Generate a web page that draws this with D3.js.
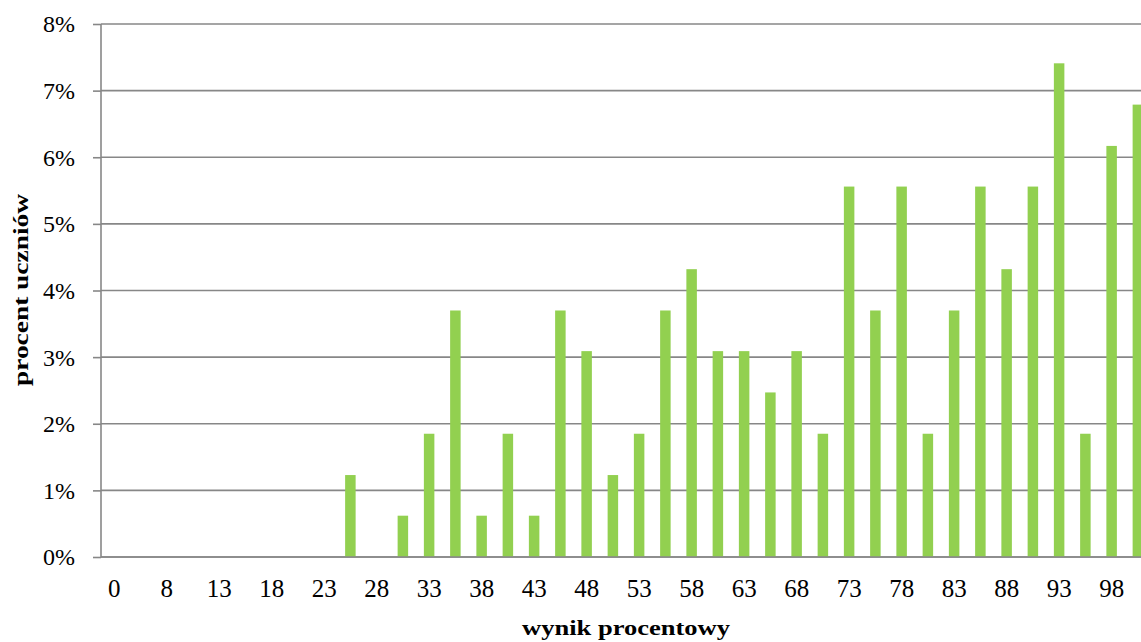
<!DOCTYPE html>
<html>
<head>
<meta charset="utf-8">
<script src="https://cdn.jsdelivr.net/npm/d3@7"></script>
<style>
  html, body { margin: 0; padding: 0; background: #fff; overflow: hidden; }
  svg { display: block; }
</style>
</head>
<body>
<svg id="chart" width="1141" height="642"></svg>
<script>
// Categories: percentage score (every other label shown)
const categories = ["0","3","8","10","13","15","18","20","23","25","28","30","33","35","38","40","43","45","48","50","53","55","58","60","63","65","68","70","73","75","78","80","83","85","88","90","93","95","98","100"];
// Share of students (%)
const values = [0,0,0,0,0,0,0,0,0,1.23,0,0.62,1.85,3.70,0.62,1.85,0.62,3.70,3.09,1.23,1.85,3.70,4.32,3.09,3.09,2.47,3.09,1.85,5.56,3.70,5.56,1.85,3.70,5.56,4.32,5.56,7.41,1.85,6.17,6.79];
const yTicks = [0,1,2,3,4,5,6,7,8];
const xTitle = "wynik procentowy";
const yTitle = "procent uczniów";

const svg = d3.select("#chart");
const pLeft = 101, pRight = 1151, pTop = 24, pBottom = 557;
const font = "'Liberation Serif','Times New Roman',serif";

const x = d3.scaleBand().domain(categories).range([pLeft, pRight]).padding(0);
const y = d3.scaleLinear().domain([0, 8]).range([pBottom, pTop]);

// gridlines + y ticks
const yAxis = d3.axisLeft(y).tickValues(yTicks).tickFormat(d => d + "%").tickSize(8).tickPadding(18);
const gy = svg.append("g").attr("transform", `translate(${pLeft},0)`).call(yAxis);
gy.select(".domain").remove();
gy.selectAll(".tick line").attr("stroke", "#878787").attr("stroke-width", 1.6);
gy.selectAll(".tick text").attr("font-family", font).attr("font-size", 24).attr("fill", "#000").attr("dy", "0.33em");

svg.append("g").selectAll("line").data(yTicks).join("line")
  .attr("x1", pLeft).attr("x2", 1141)
  .attr("y1", d => y(d)).attr("y2", d => y(d))
  .attr("stroke", "#878787").attr("stroke-width", 1.6);

// bars
const bw = 10.5;
svg.append("g").selectAll("rect").data(values.map((v, i) => ({c: categories[i], v})))
  .join("rect")
  .attr("x", d => x(d.c) + x.bandwidth() / 2 - bw / 2)
  .attr("width", bw)
  .attr("y", d => y(d.v))
  .attr("height", d => y(0) - y(d.v))
  .attr("fill", "#92D050");

// y axis line
svg.append("line").attr("x1", pLeft).attr("x2", pLeft).attr("y1", pTop).attr("y2", pBottom)
  .attr("stroke", "#878787").attr("stroke-width", 1.6);
// x axis line
svg.append("line").attr("x1", pLeft).attr("x2", 1141).attr("y1", pBottom).attr("y2", pBottom)
  .attr("stroke", "#878787").attr("stroke-width", 1.6);

// x tick labels (every other category)
const xAxis = d3.axisBottom(x).tickValues(categories.filter((d, i) => i % 2 === 0)).tickSize(0).tickPadding(22);
const gx = svg.append("g").attr("transform", `translate(0,${pBottom})`).call(xAxis);
gx.select(".domain").remove();
gx.selectAll(".tick text").attr("font-family", font).attr("font-size", 25).attr("fill", "#000");

// titles
svg.append("text").attr("x", 626).attr("y", 635).attr("text-anchor", "middle")
  .attr("font-family", font).attr("font-size", 22).attr("font-weight", "bold")
  .attr("textLength", 208).attr("lengthAdjust", "spacingAndGlyphs").text(xTitle);
svg.append("text").attr("transform", "translate(28,290) rotate(-90)").attr("text-anchor", "middle")
  .attr("font-family", font).attr("font-size", 22).attr("font-weight", "bold")
  .attr("textLength", 192).attr("lengthAdjust", "spacingAndGlyphs").text(yTitle);
</script>
</body>
</html>
